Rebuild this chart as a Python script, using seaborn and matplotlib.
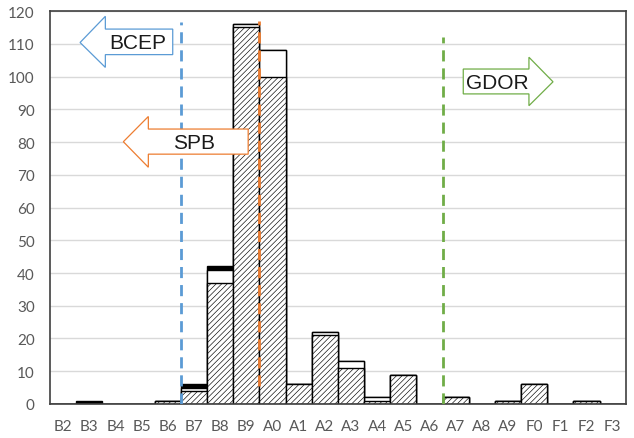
import numpy as np
import pandas as pd
import seaborn as sns
import matplotlib.pyplot as plt
from matplotlib.patches import Polygon

# Set the style for seaborn plots
sns.set_style("whitegrid")
plt.rcParams['font.family'] = ['Lato', 'DejaVu Sans']
plt.rcParams['hatch.linewidth'] = 0.45

# Spectral types on the x axis
spectral_types = ['B2', 'B3', 'B4', 'B5', 'B6', 'B7', 'B8', 'B9', 'A0', 'A1', 'A2',
                  'A3', 'A4', 'A5', 'A6', 'A7', 'A8', 'A9', 'F0', 'F1', 'F2', 'F3']

# Three stacked parts of each bar (hatched bottom, white middle, black top)
hatched_counts = [0, 0, 0, 0, 1, 4, 37, 115, 100, 6, 21, 11, 1, 9, 0, 2, 0, 1, 6, 0, 1, 0]
white_counts = [0, 0, 0, 0, 0, 1, 4, 1, 8, 0, 1, 2, 1, 0, 0, 0, 0, 0, 0, 0, 0, 0]
black_counts = [0, 1, 0, 0, 0, 1, 1, 0, 0, 0, 0, 0, 0, 0, 0, 0, 0, 0, 0, 0, 0, 0]

df = pd.DataFrame({'type': spectral_types, 'hatched': hatched_counts,
                   'white': white_counts, 'black': black_counts})
df['lower'] = df['hatched'] + df['white']
df['total'] = df['lower'] + df['black']

fig = plt.figure(figsize=(6.34, 4.39), dpi=100)
ax = fig.add_axes([0.079, 0.0775, 0.908, 0.895])

# Draw back to front so each layer covers the one under it
sns.barplot(data=df, x='type', y='total', order=spectral_types, color='black',
            width=1, edgecolor='black', linewidth=1, saturation=1, ax=ax)
sns.barplot(data=df, x='type', y='lower', order=spectral_types, color='white',
            width=1, edgecolor='black', linewidth=1, saturation=1, ax=ax)
n_before = len(ax.patches)
sns.barplot(data=df, x='type', y='hatched', order=spectral_types, color='white',
            width=1, edgecolor='black', linewidth=1, saturation=1, ax=ax)
for p in ax.patches[n_before:]:
    p.set_hatch('//////')

# Boundaries between classes
ax.vlines(4.5, 0, 116.6, colors='#5B9BD5', linestyles=(0, (4, 2.5)), linewidth=2, zorder=5)
ax.vlines(7.5, 5.5, 117, colors='#ED7D31', linestyles=(0, (4, 2.5)), linewidth=2, zorder=5)
ax.vlines(14.5, 0, 112, colors='#70AD47', linestyles=(0, (4, 2.5)), linewidth=2, zorder=5)

# Arrow shapes with labels
bcep = [(0.646, 110.4), (1.612, 118.4), (1.612, 114.5), (4.187, 114.5),
        (4.187, 106.7), (1.612, 106.7), (1.612, 102.8)]
spb = [(2.30, 80.1), (3.255, 87.8), (3.255, 83.97), (7.07, 83.97),
       (7.07, 76.3), (3.255, 76.3), (3.255, 72.3)]
gdor = [(15.29, 102.3), (17.80, 102.3), (17.80, 105.9), (18.72, 98.4),
        (17.80, 91.1), (17.80, 94.7), (15.29, 94.7)]
for pts, col in [(bcep, '#5B9BD5'), (spb, '#ED7D31'), (gdor, '#70AD47')]:
    ax.add_patch(Polygon(pts, closed=True, facecolor='white', edgecolor=col,
                         linewidth=0.9, zorder=6))
for label, x, y in [('BCEP', 2.84, 110.4), ('SPB', 5.0, 80.0), ('GDOR', 16.61, 98.3)]:
    ax.text(x, y, label, ha='center', va='center', fontsize=15,
            family=['Liberation Sans', 'DejaVu Sans'], color='#1a1a1a', zorder=7)

ax.set_xlim(-0.5, 21.5)
ax.set_ylim(0, 120)
ax.set_yticks(np.arange(0, 121, 10))
ax.set_xlabel('')
ax.set_ylabel('')
ax.grid(axis='y', color='#D9D9D9', linewidth=1)
ax.grid(axis='x', visible=False)
ax.set_axisbelow(True)
ax.tick_params(axis='x', length=0, pad=11, labelsize=11, labelcolor='#595959')
ax.tick_params(axis='y', length=0, pad=11, labelsize=11, labelcolor='#595959')
for s in ax.spines.values():
    s.set_visible(True)
    s.set_color('#404040')
    s.set_linewidth(1.2)

plt.savefig('out.png', dpi=100)
plt.close()
